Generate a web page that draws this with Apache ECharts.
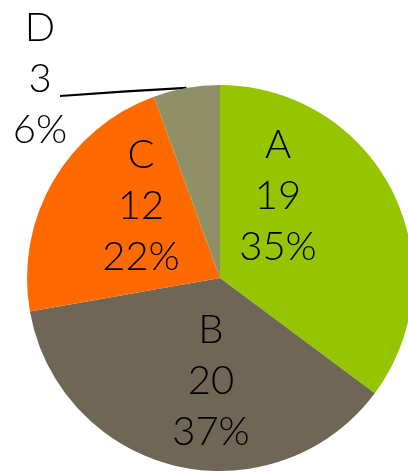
<!DOCTYPE html>
<html>
<head>
<meta charset="utf-8">
<script src="https://cdn.jsdelivr.net/npm/echarts@6/dist/echarts.min.js"></script>
<style>
  html, body { margin: 0; padding: 0; background: #fff; }
  #chart { width: 408px; height: 474px; }
</style>
</head>
<body>
<div id="chart"></div>
<script>
// Slice names and counts
const categories = ['A', 'B', 'C', 'D'];
const values = [19, 20, 12, 3];
const colors = ['#95C400', '#6F6656', '#FF6A00', '#8F9068'];

// Where each label block sits (centre of the three text lines)
const labelSpots = [
  { x: 278, y: 196 },
  { x: 211, y: 381 },
  { x: 141, y: 206 },
  { x: 40, y: 79 }
];

const chart = echarts.init(document.getElementById('chart'), null, { renderer: 'canvas' });

chart.setOption({
  backgroundColor: '#ffffff',
  animation: false,
  series: [{
    type: 'pie',
    center: [220, 278],
    radius: 193,
    startAngle: 90,
    clockwise: true,
    percentPrecision: 0,
    label: {
      show: true,
      position: 'inside',
      formatter: '{b}\n{c}\n{d}%',
      color: '#000',
      fontFamily: 'Lato, "DejaVu Sans", sans-serif',
      fontWeight: 300,
      fontSize: 40,
      lineHeight: 51,
      align: 'center'
    },
    labelLine: { show: false, lineStyle: { color: '#000', width: 2.2 } },
    data: categories.map((name, i) => {
      const item = { name, value: values[i], itemStyle: { color: colors[i] } };
      if (i === 3) {
        item.label = { position: 'outside' };
        item.labelLine = { show: true, lineStyle: { color: '#000', width: 2.2 } };
      }
      return item;
    }),
    labelLayout: (params) => {
      const spot = labelSpots[params.dataIndex];
      const out = { x: spot.x, y: spot.y, align: 'center', verticalAlign: 'middle' };
      if (params.dataIndex === 3 && params.labelLinePoints) {
        const start = params.labelLinePoints[0];
        out.labelLinePoints = [start, [start[0] - 60, start[1] + 3.5], [60, 96]];
      }
      return out;
    }
  }]
});
</script>
</body>
</html>
